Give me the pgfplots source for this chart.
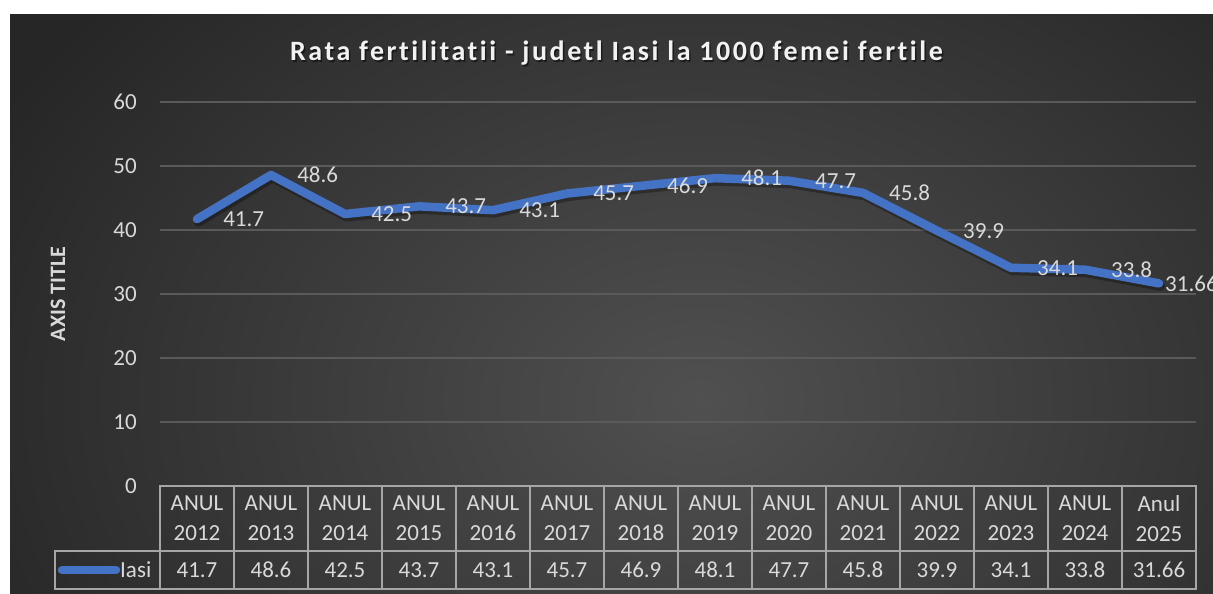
\documentclass[border=0pt]{standalone}
\usepackage{pgfplots}
\pgfplotsset{compat=1.18}
\usepackage{pgfplotstable}
\usepackage{fontspec}
\setmainfont{Carlito}[Ligatures={NoCommon}]
\newfontfamily\titlefont[LetterSpace=9,Ligatures={NoCommon}]{Carlito}
\definecolor{txt}{HTML}{D9D9D9}
\definecolor{ttl}{HTML}{F2F2F2}
\definecolor{gridc}{HTML}{5A5A5A}
\definecolor{tabc}{HTML}{A6A6A6}
\definecolor{lineblue}{HTML}{4472C4}
\definecolor{bgin}{HTML}{505050}
\definecolor{bgout}{HTML}{262626}
\pgfdeclareradialshading{bgshade}{\pgfpoint{0bp}{0bp}}{color(0bp)=(bgin); color(25bp)=(bgout); color(50bp)=(bgout)}

\pgfplotstableread{
x y v dx
0 41.7 41.7 22
1 48.6 48.6 22
2 42.5 42.5 22
3 43.7 43.7 22
4 43.1 43.1 22
5 45.7 45.7 22
6 46.9 46.9 22
7 48.1 48.1 22
8 47.7 47.7 22
9 45.8 45.8 22
10 39.9 39.9 22
11 34.1 34.1 22
12 33.8 33.8 22
13 31.66 31.66 2
}\data

\begin{document}
\begin{tikzpicture}[x=1pt,y=1pt]
\useasboundingbox (0,0) rectangle (1213,-594);
\clip (0,0) rectangle (1213,-594);
\fill[white] (0,0) rectangle (1213,-594);
\begin{scope}
\clip (10,-15) rectangle (1213,-594);
\shade[shading=bgshade] (-100,200) rectangle (1500,-1000);
\end{scope}

\begin{axis}[
  at={(160pt,-486pt)}, anchor=south west,
  scale only axis, width=1036pt, height=384pt,
  xmin=-0.5, xmax=13.5, ymin=0, ymax=60,
  ytick={0,10,...,60},
  xtick={0,...,13},
  xticklabels={{ANUL\\2012},{ANUL\\2013},{ANUL\\2014},{ANUL\\2015},{ANUL\\2016},{ANUL\\2017},{ANUL\\2018},{ANUL\\2019},{ANUL\\2020},{ANUL\\2021},{ANUL\\2022},{ANUL\\2023},{ANUL\\2024},{Anul\\2025}},
  xticklabel style={align=center, anchor=center, inner sep=0pt, yshift=-32.5pt, font=\fontsize{23}{30}\selectfont, text=txt},
  yticklabel style={anchor=east, inner sep=0pt, xshift=-23pt, font=\fontsize{23}{28}\selectfont, text=txt},
  /pgf/number format/assume math mode=true,
  axis line style={draw=none},
  major tick length=0pt,
  ymajorgrids,
  grid style={gridc, line width=1.5pt},
  clip=false,
  ylabel={AXIS TITLE},
  ylabel style={at={(rel axis cs:0,0.5)}, anchor=center, yshift=102pt, font=\fontsize{22}{26}\selectfont\bfseries, text=txt},
]
% soft shadow of the line
\addplot[black, opacity=0.3, line width=9pt, line join=round, line cap=round, forget plot,
  shift={(1.5pt,-3pt)}]
  table[x=x, y=y] {\data};
\addplot[lineblue, line width=8.5pt, line join=round, line cap=round,
  nodes near coords, point meta=explicit symbolic,
  visualization depends on={\thisrow{dx} \as \dx},
  nodes near coords style={anchor=west, inner sep=0pt, xshift=\dx pt, text=txt, font=\fontsize{23}{28}\selectfont}]
  table[x=x, y=y, meta=v] {\data};
\addplot[draw=none, forget plot,
  nodes near coords, point meta=explicit symbolic,
  nodes near coords style={anchor=center, inner sep=0pt, text=txt, font=\fontsize{23}{28}\selectfont}]
  table[x=x, y expr=-13.125, meta=v] {\data};
\end{axis}

% data table grid
\draw[tabc, line width=1.5pt] (160,-486) rectangle (1196,-589);
\draw[tabc, line width=1.5pt] (55,-551) -- (1196,-551);
\draw[tabc, line width=1.5pt] (55,-551) rectangle (160,-589);
\foreach \i in {1,...,13} {
  \draw[tabc, line width=1.5pt] (160+74*\i,-486) -- (160+74*\i,-589);
}
% legend key
\draw[lineblue, line width=8.5pt, line cap=round] (62,-570) -- (116,-570);
\node[anchor=west, inner sep=0pt, text=txt, font=\fontsize{23}{28}\selectfont] at (120,-570) {Iasi};
% title
\node[text=black, opacity=0.5, font=\titlefont\fontsize{28}{34}\selectfont\bfseries] at (618,-55) {Rata fertilitatii - judetl Iasi la 1000 femei fertile};
\node[text=ttl, font=\titlefont\fontsize{28}{34}\selectfont\bfseries] at (616.5,-53) {Rata fertilitatii - judetl Iasi la 1000 femei fertile};
\end{tikzpicture}
\end{document}
